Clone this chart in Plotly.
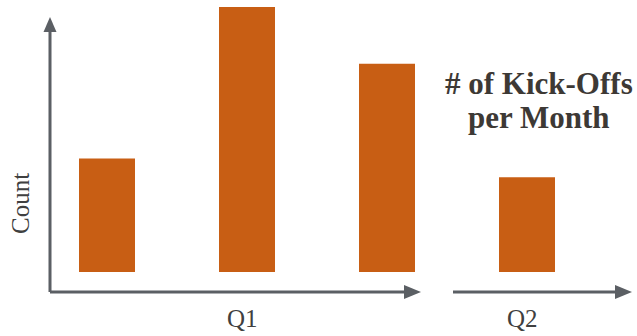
import plotly.graph_objects as go

# Monthly kick-off counts, grouped by quarter
months = [1, 2, 3, 4]
kickoffs = [12, 28, 22, 10]
quarter_labels = ["Q1", "Q2"]
quarter_centers = [2, 4]          # month at the middle of each quarter's bars
axis_title = "Count"
title_lines = ["# of Kick-Offs", "per Month"]

W, H = 637, 336
BAR_COLOR = "#C85E14"
AXIS_COLOR = "#5B5F64"
TEXT_COLOR = "#404040"
TITLE_COLOR = "#3D3935"


def px(x):
    return x / W


def py(y):
    return 1 - y / H


fig = go.Figure()
fig.add_trace(go.Bar(
    x=months,
    y=kickoffs,
    width=0.4,
    marker=dict(color=BAR_COLOR, line=dict(width=0)),
    hoverinfo="skip",
))

shapes = []
# hand-drawn style axes with solid triangular arrowheads
axis_segments = [
    (50, 292, 50, 30),    # vertical axis
    (50, 292, 406, 292),  # first quarter baseline
    (453, 292, 616, 292), # second quarter baseline
]
for x0, y0, x1, y1 in axis_segments:
    shapes.append(dict(type="line", xref="paper", yref="paper",
                       x0=px(x0), y0=py(y0), x1=px(x1), y1=py(y1),
                       line=dict(color=AXIS_COLOR, width=3)))


def tri(points):
    d = "M " + " L ".join(f"{px(a):.5f},{py(b):.5f}" for a, b in points) + " Z"
    return dict(type="path", xref="paper", yref="paper", path=d,
                fillcolor=AXIS_COLOR, line=dict(width=0))


shapes.append(tri([(43.5, 32), (56.5, 32), (50, 17)]))
shapes.append(tri([(404, 285), (404, 299), (421, 292)]))
shapes.append(tri([(615, 285), (615, 299), (632, 292)]))

annotations = []
for lab, c in zip(quarter_labels, quarter_centers):
    annotations.append(dict(
        x=c, y=0, xref="x", yref="y", yshift=-46, xshift=-5,
        text=lab, showarrow=False, xanchor="center", yanchor="middle",
        font=dict(family="Liberation Serif", size=25, color=TEXT_COLOR),
    ))
annotations.append(dict(
    x=px(21), y=py(204), xref="paper", yref="paper",
    text=axis_title, textangle=-90, showarrow=False,
    xanchor="center", yanchor="middle",
    font=dict(family="Liberation Serif", size=25, color=TEXT_COLOR),
))
for line, yc in zip(title_lines, [83, 118]):
    annotations.append(dict(
        x=px(539), y=py(yc), xref="paper", yref="paper",
        text=line, showarrow=False, xanchor="center", yanchor="middle",
        font=dict(family="Liberation Serif", size=31, color=TITLE_COLOR,
                  weight="bold"),
    ))

# month 1 sits at 107 px and each month step is 140 px; zero count sits at 272 px
unit_x = 140.0
unit_y = 265.0 / 28.0
x_range = [1 - 107 / unit_x, 1 + (W - 107) / unit_x]
y_range = [-(H - 272) / unit_y, 272 / unit_y]

fig.update_layout(
    width=W, height=H,
    margin=dict(l=0, r=0, t=0, b=0),
    paper_bgcolor="white", plot_bgcolor="white",
    showlegend=False,
    xaxis=dict(range=x_range, visible=False, fixedrange=True),
    yaxis=dict(range=y_range, visible=False, fixedrange=True),
    shapes=shapes,
    annotations=annotations,
)

fig.write_html("out.html", config={"displayModeBar": False})
